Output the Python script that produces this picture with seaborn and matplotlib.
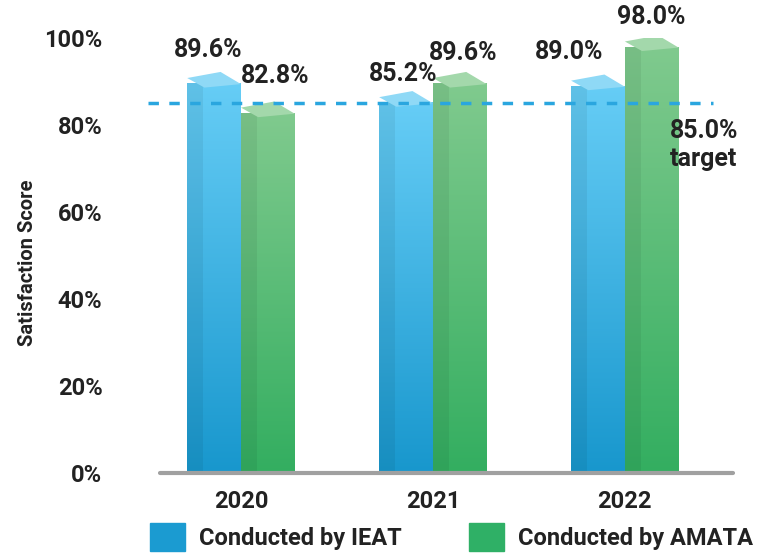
import numpy as np
import pandas as pd
import matplotlib
matplotlib.use("Agg")
import matplotlib.pyplot as plt
import seaborn as sns
from matplotlib.patches import Patch, Polygon, Rectangle
from matplotlib.colors import LinearSegmentedColormap

# ---- data ----
years = ["2020", "2021", "2022"]
ieat = [89.6, 85.2, 89.0]
amata = [82.8, 89.6, 98.0]
series = ["Conducted by IEAT", "Conducted by AMATA"]
target = 85.0
yticks = [0, 20, 40, 60, 80, 100]

# ---- style ----
sns.set_theme(style="white")
plt.rcParams["font.family"] = ["Roboto", "DejaVu Sans"]
plt.rcParams["font.weight"] = "bold"
TXT = "#222222"
solid = ["#1b9bd1", "#2fb066"]
grad = [("#1897cd", "#66cdf6"), ("#33ae60", "#80ca8e")]
topc = ["#8fd9f6", "#a3d8ab"]

df = pd.DataFrame({
    "year": years * 2,
    "value": ieat + amata,
    "source": [series[0]] * len(years) + [series[1]] * len(years),
})

fig = plt.figure(figsize=(7.71, 5.56), dpi=100)
ax = fig.add_axes([140 / 771, 83 / 556, 600 / 771, 435 / 556])

sns.barplot(data=df, x="year", y="value", hue="source", order=years,
            hue_order=series, palette=solid, width=0.56, saturation=1,
            legend=False, errorbar=None, ax=ax)

xlim = (-0.526, 2.60)
ylim = (0, 100)

bars = list(ax.patches)
for p in bars:
    x0, w, h = p.get_x(), p.get_width(), p.get_height()
    xc = x0 + w / 2
    cat = int(round(xc))
    s = 0 if xc < cat else 1
    cmap = LinearSegmentedColormap.from_list("g", grad[s])
    g = np.linspace(0, 1, 256).reshape(-1, 1)
    im = ax.imshow(g, cmap=cmap, origin="lower", aspect="auto",
                   extent=[x0, x0 + w, 0, h], zorder=p.get_zorder() + 0.1)
    im.set_clip_path(p)
    ax.add_patch(Rectangle((x0, 0), 0.3 * w, h, color="black", alpha=0.06,
                           lw=0, zorder=p.get_zorder() + 0.2))
    top = Polygon([(x0, h + 1.2), (x0 + 0.62 * w, h + 2.6), (x0 + w, h - 0.2),
                   (x0 + 0.32 * w, h - 1.0)], closed=True, color=topc[s],
                  lw=0, zorder=p.get_zorder() + 0.3)
    ax.add_patch(top)
    dx = [[-0.03, 0.04], [-0.015, 0.02], [-0.15, 0.0]][cat][s]
    dy = [[7.6, 8.5], [6.5, 7.0], [7.8, 6.8]][cat][s]
    ax.text(xc + dx, h + dy, f"{h:.1f}%", ha="center", va="center",
            fontsize=18, color=TXT, fontweight="bold", clip_on=False)

ax.set_xlim(*xlim)
ax.set_ylim(*ylim)

# baseline & target line
ax.axhline(0, xmin=20 / 600, xmax=593 / 600, color="#a0a0a0", lw=3,
           clip_on=False, zorder=5)
ax.axhline(target, xmin=8 / 600, xmax=573 / 600, color="#2aa6df", lw=2.5,
           ls=(0, (3, 3)), zorder=6)
ax.text(564 / 600, target - 9.6, f"{target:.1f}%\ntarget",
        transform=ax.get_yaxis_transform(), ha="center", va="center",
        fontsize=18, color=TXT, fontweight="bold", linespacing=1.2)

for sp in ax.spines.values():
    sp.set_visible(False)
ax.set_yticks(yticks)
ax.set_yticklabels([f"{v}%" for v in yticks])
ax.tick_params(axis="y", length=0, pad=27, labelsize=17, labelcolor=TXT)
ax.tick_params(axis="x", length=0, pad=12, labelsize=17, labelcolor=TXT)
ax.set_xlabel("")
ax.set_ylabel("Satisfaction Score", fontsize=14.5, color=TXT, fontweight="bold")
ax.yaxis.set_label_coords(-0.172, 0.483)
ax.grid(False)

handles = [Patch(color=solid[0]), Patch(color=solid[1])]
fig.legend(handles, series, loc="upper left",
           bbox_to_anchor=(150 / 771, 1 - 523 / 556), ncol=2, frameon=False,
           fontsize=17, handlelength=1.48, handleheight=1.48, handletextpad=0.6,
           columnspacing=2.85, borderpad=0, borderaxespad=0,
           labelcolor=TXT)

fig.savefig("out.png", dpi=100)
